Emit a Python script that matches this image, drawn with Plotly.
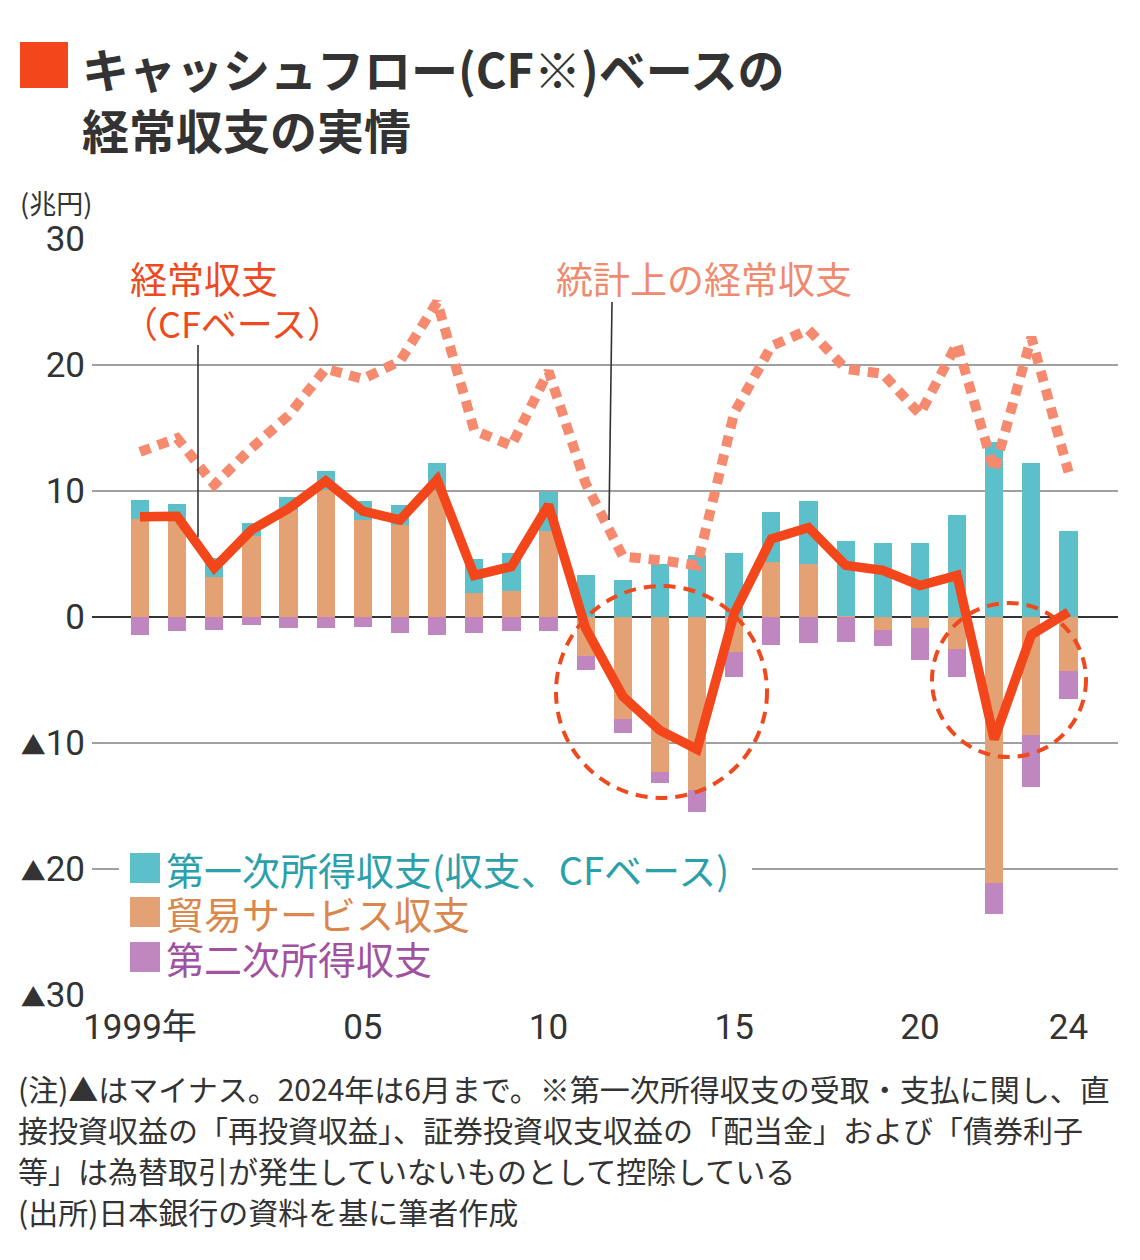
import plotly.graph_objects as go

years = list(range(1999, 2025))
trade_services = [7.8, 7.7, 3.2, 6.4, 8.5, 10.1, 7.7, 7.3, 10.0, 1.9, 2.1, 6.8, -3.1, -8.1,
                  -12.3, -13.7, -2.8, 4.4, 4.2, 0.1, -1.0, -0.9, -2.5, -21.1, -9.4, -4.3]
primary_income_cf = [1.5, 1.3, 1.5, 1.1, 1.0, 1.5, 1.5, 1.6, 2.2, 2.7, 3.0, 3.1, 3.3, 2.9,
                     4.2, 4.9, 5.1, 3.9, 5.0, 5.9, 5.9, 5.9, 8.1, 13.9, 12.2, 6.8]
secondary_income = [-1.4, -1.1, -1.0, -0.6, -0.9, -0.9, -0.8, -1.3, -1.4, -1.3, -1.1, -1.1, -1.1, -1.1,
                    -0.9, -1.8, -2.0, -2.2, -2.1, -2.0, -1.3, -2.5, -2.3, -2.5, -4.1, -2.2]
current_account_cf = [7.95, 8.0, 3.9, 6.9, 8.6, 10.8, 8.4, 7.7, 10.9, 3.3, 4.0, 8.9, -0.9, -6.3,
                      -9.0, -10.5, 0.3, 6.2, 7.1, 4.1, 3.7, 2.5, 3.3, -9.7, -1.4, 0.4]
current_account_stat = [13.1, 14.2, 10.5, 13.4, 16.0, 19.7, 18.9, 20.3, 25.0, 14.8, 13.6, 19.5, 10.6, 4.8,
                        4.5, 4.1, 16.2, 21.5, 22.8, 19.7, 19.3, 16.1, 21.7, 11.6, 22.2, 11.5]

TRI = '<span style="font-size:25px">▲</span>'
y_tickvals = [30, 20, 10, 0, -10, -20, -30]
y_ticktext = ["30", "20", "10", "0", TRI + "10", TRI + "20", TRI + "30"]
x_tickvals = [1999, 2005, 2010, 2015, 2020, 2024]
x_ticktext = ["1999年", "05", "10", "15", "20", "24"]

TEAL = "#5cc0cb"
ORANGE = "#e3a174"
PURPLE = "#c086bf"
RED = "#f4461b"
SALMON = "#f58a6f"
DARK = "#333333"
JP = "Noto Sans CJK JP"

# page offset (browser body margin)
OFF = 8
W, H = 1140 - OFF, 1260 - OFF
# plot area in screenshot pixels
SL, ST, SR, SB = 92, 239, 1118, 995
PW, PH = SR - SL, SB - ST
L, T = SL - OFF, ST - OFF
R, B = W - (SR - OFF), H - (SB - OFF)


def PX(px):
    return (px - SL) / PW


def PY(py):
    return (SB - py) / PH


X0_PX, X_PER = 140.0, 37.14
Y0_PX, Y_PER = 617.0, 12.6


def DX(px):
    return 1999 + (px - X0_PX) / X_PER


def DY(py):
    return (Y0_PX - py) / Y_PER


fig = go.Figure()
fig.add_trace(go.Bar(x=years, y=trade_services, marker=dict(color=ORANGE, line=dict(width=0)),
                     width=0.49, name="貿易サービス収支"))
fig.add_trace(go.Bar(x=years, y=primary_income_cf, marker=dict(color=TEAL, line=dict(width=0)),
                     width=0.49, name="第一次所得収支"))
fig.add_trace(go.Bar(x=years, y=secondary_income, marker=dict(color=PURPLE, line=dict(width=0)),
                     width=0.49, name="第二次所得収支"))
fig.add_trace(go.Scatter(x=years, y=current_account_stat, mode="lines",
                         line=dict(color=SALMON, width=10, dash="11px,8px"), name="統計上の経常収支"))
fig.add_trace(go.Scatter(x=years, y=current_account_cf, mode="lines",
                         line=dict(color=RED, width=9.5), name="経常収支(CFベース)"))

shapes = []
shapes.append(dict(type="rect", xref="paper", yref="paper", x0=PX(20), x1=PX(68), y0=PY(88), y1=PY(42),
                   fillcolor="#f4461b", line=dict(width=0)))
shapes.append(dict(type="circle", xref="x", yref="y", x0=DX(556), x1=DX(767), y0=DY(798), y1=DY(586),
                   line=dict(color="#ee4a1e", width=4, dash="12px,8px")))
shapes.append(dict(type="circle", xref="x", yref="y", x0=DX(932), x1=DX(1086), y0=DY(757), y1=DY(603),
                   line=dict(color="#ee4a1e", width=4, dash="12px,8px")))
shapes.append(dict(type="line", xref="x", yref="y", x0=DX(198), x1=DX(198), y0=DY(345), y1=DY(537),
                   line=dict(color=DARK, width=1.6)))
shapes.append(dict(type="line", xref="x", yref="y", x0=DX(612), x1=DX(609), y0=DY(302), y1=DY(520),
                   line=dict(color=DARK, width=1.6)))
shapes.append(dict(type="rect", xref="paper", yref="paper", x0=PX(119), x1=PX(752), y0=PY(888), y1=PY(848),
                   fillcolor="white", line=dict(width=0), layer="above"))
legend_rows = [("第一次所得収支(収支、CFベース)", TEAL, "#2aa0aa", 868),
               ("貿易サービス収支", ORANGE, "#d9874c", 912),
               ("第二次所得収支", PURPLE, "#a0519f", 957)]
annotations = []
for text, sq, tc, yc in legend_rows:
    shapes.append(dict(type="rect", xref="paper", yref="paper", x0=PX(130), x1=PX(160),
                       y0=PY(yc + 15), y1=PY(yc - 15), fillcolor=sq, line=dict(width=0), layer="above"))
    annotations.append(dict(text=text, xref="paper", yref="paper", x=PX(164), y=PY(yc), xanchor="left",
                            yanchor="middle", showarrow=False, font=dict(family=JP, size=38, color=tc)))

annotations.append(dict(text="<b>キャッシュフロー(CF※)ベースの</b>", xref="paper", yref="paper", x=PX(80), y=PY(67),
                        xanchor="left", yanchor="middle", showarrow=False,
                        font=dict(family=JP, size=47, color=DARK)))
annotations.append(dict(text="<b>経常収支の実情</b>", xref="paper", yref="paper", x=PX(80), y=PY(128),
                        xanchor="left", yanchor="middle", showarrow=False,
                        font=dict(family=JP, size=47, color=DARK)))
annotations.append(dict(text="(兆円)", xref="paper", yref="paper", x=PX(18), y=PY(203),
                        xanchor="left", yanchor="middle", showarrow=False,
                        font=dict(family=JP, size=27, color=DARK)))
annotations.append(dict(text="経常収支", xref="paper", yref="paper", x=PX(128), y=PY(278),
                        xanchor="left", yanchor="middle", showarrow=False,
                        font=dict(family=JP, size=37, color="#ee4a1e")))
annotations.append(dict(text="（CFベース）", xref="paper", yref="paper", x=PX(120), y=PY(322),
                        xanchor="left", yanchor="middle", showarrow=False,
                        font=dict(family=JP, size=36, color="#ee4a1e")))
annotations.append(dict(text="統計上の経常収支", xref="paper", yref="paper", x=PX(554), y=PY(278),
                        xanchor="left", yanchor="middle", showarrow=False,
                        font=dict(family=JP, size=37, color="#ef8a6e")))
notes = ["(注)▲はマイナス。2024年は6月まで。※第一次所得収支の受取・支払に関し、直",
         "接投資収益の「再投資収益」、証券投資収支収益の「配当金」および「債券利子",
         "等」は為替取引が発生していないものとして控除している",
         "(出所)日本銀行の資料を基に筆者作成"]
for i, t in enumerate(notes):
    annotations.append(dict(text=t, xref="paper", yref="paper", x=PX(16), y=PY(1088 + 41 * i),
                            xanchor="left", yanchor="middle", showarrow=False,
                            font=dict(family=JP, size=30, color=DARK)))

fig.update_layout(
    width=W, height=H,
    margin=dict(l=L, r=R, t=T, b=B, autoexpand=False),
    paper_bgcolor="white", plot_bgcolor="white",
    barmode="relative", bargap=0, showlegend=False,
    font=dict(family=JP, color=DARK),
    shapes=shapes, annotations=annotations,
    xaxis=dict(range=[DX(SL), DX(SR)], tickvals=x_tickvals, ticktext=x_ticktext,
               showgrid=False, zeroline=False, showline=False, ticks="",
               tickfont=dict(family="Roboto, Noto Sans CJK JP", size=35, color=DARK),
               ticklabelstandoff=8),
    yaxis=dict(range=[-30, 30], tickvals=y_tickvals, ticktext=y_ticktext,
               showgrid=True, gridcolor="#a0a0a0", gridwidth=1.5,
               zeroline=True, zerolinecolor=DARK, zerolinewidth=2,
               showline=False, ticks="",
               tickfont=dict(family="Roboto, Noto Sans CJK JP", size=35, color=DARK),
               ticklabelstandoff=6),
)

fig.write_html("out.html")
